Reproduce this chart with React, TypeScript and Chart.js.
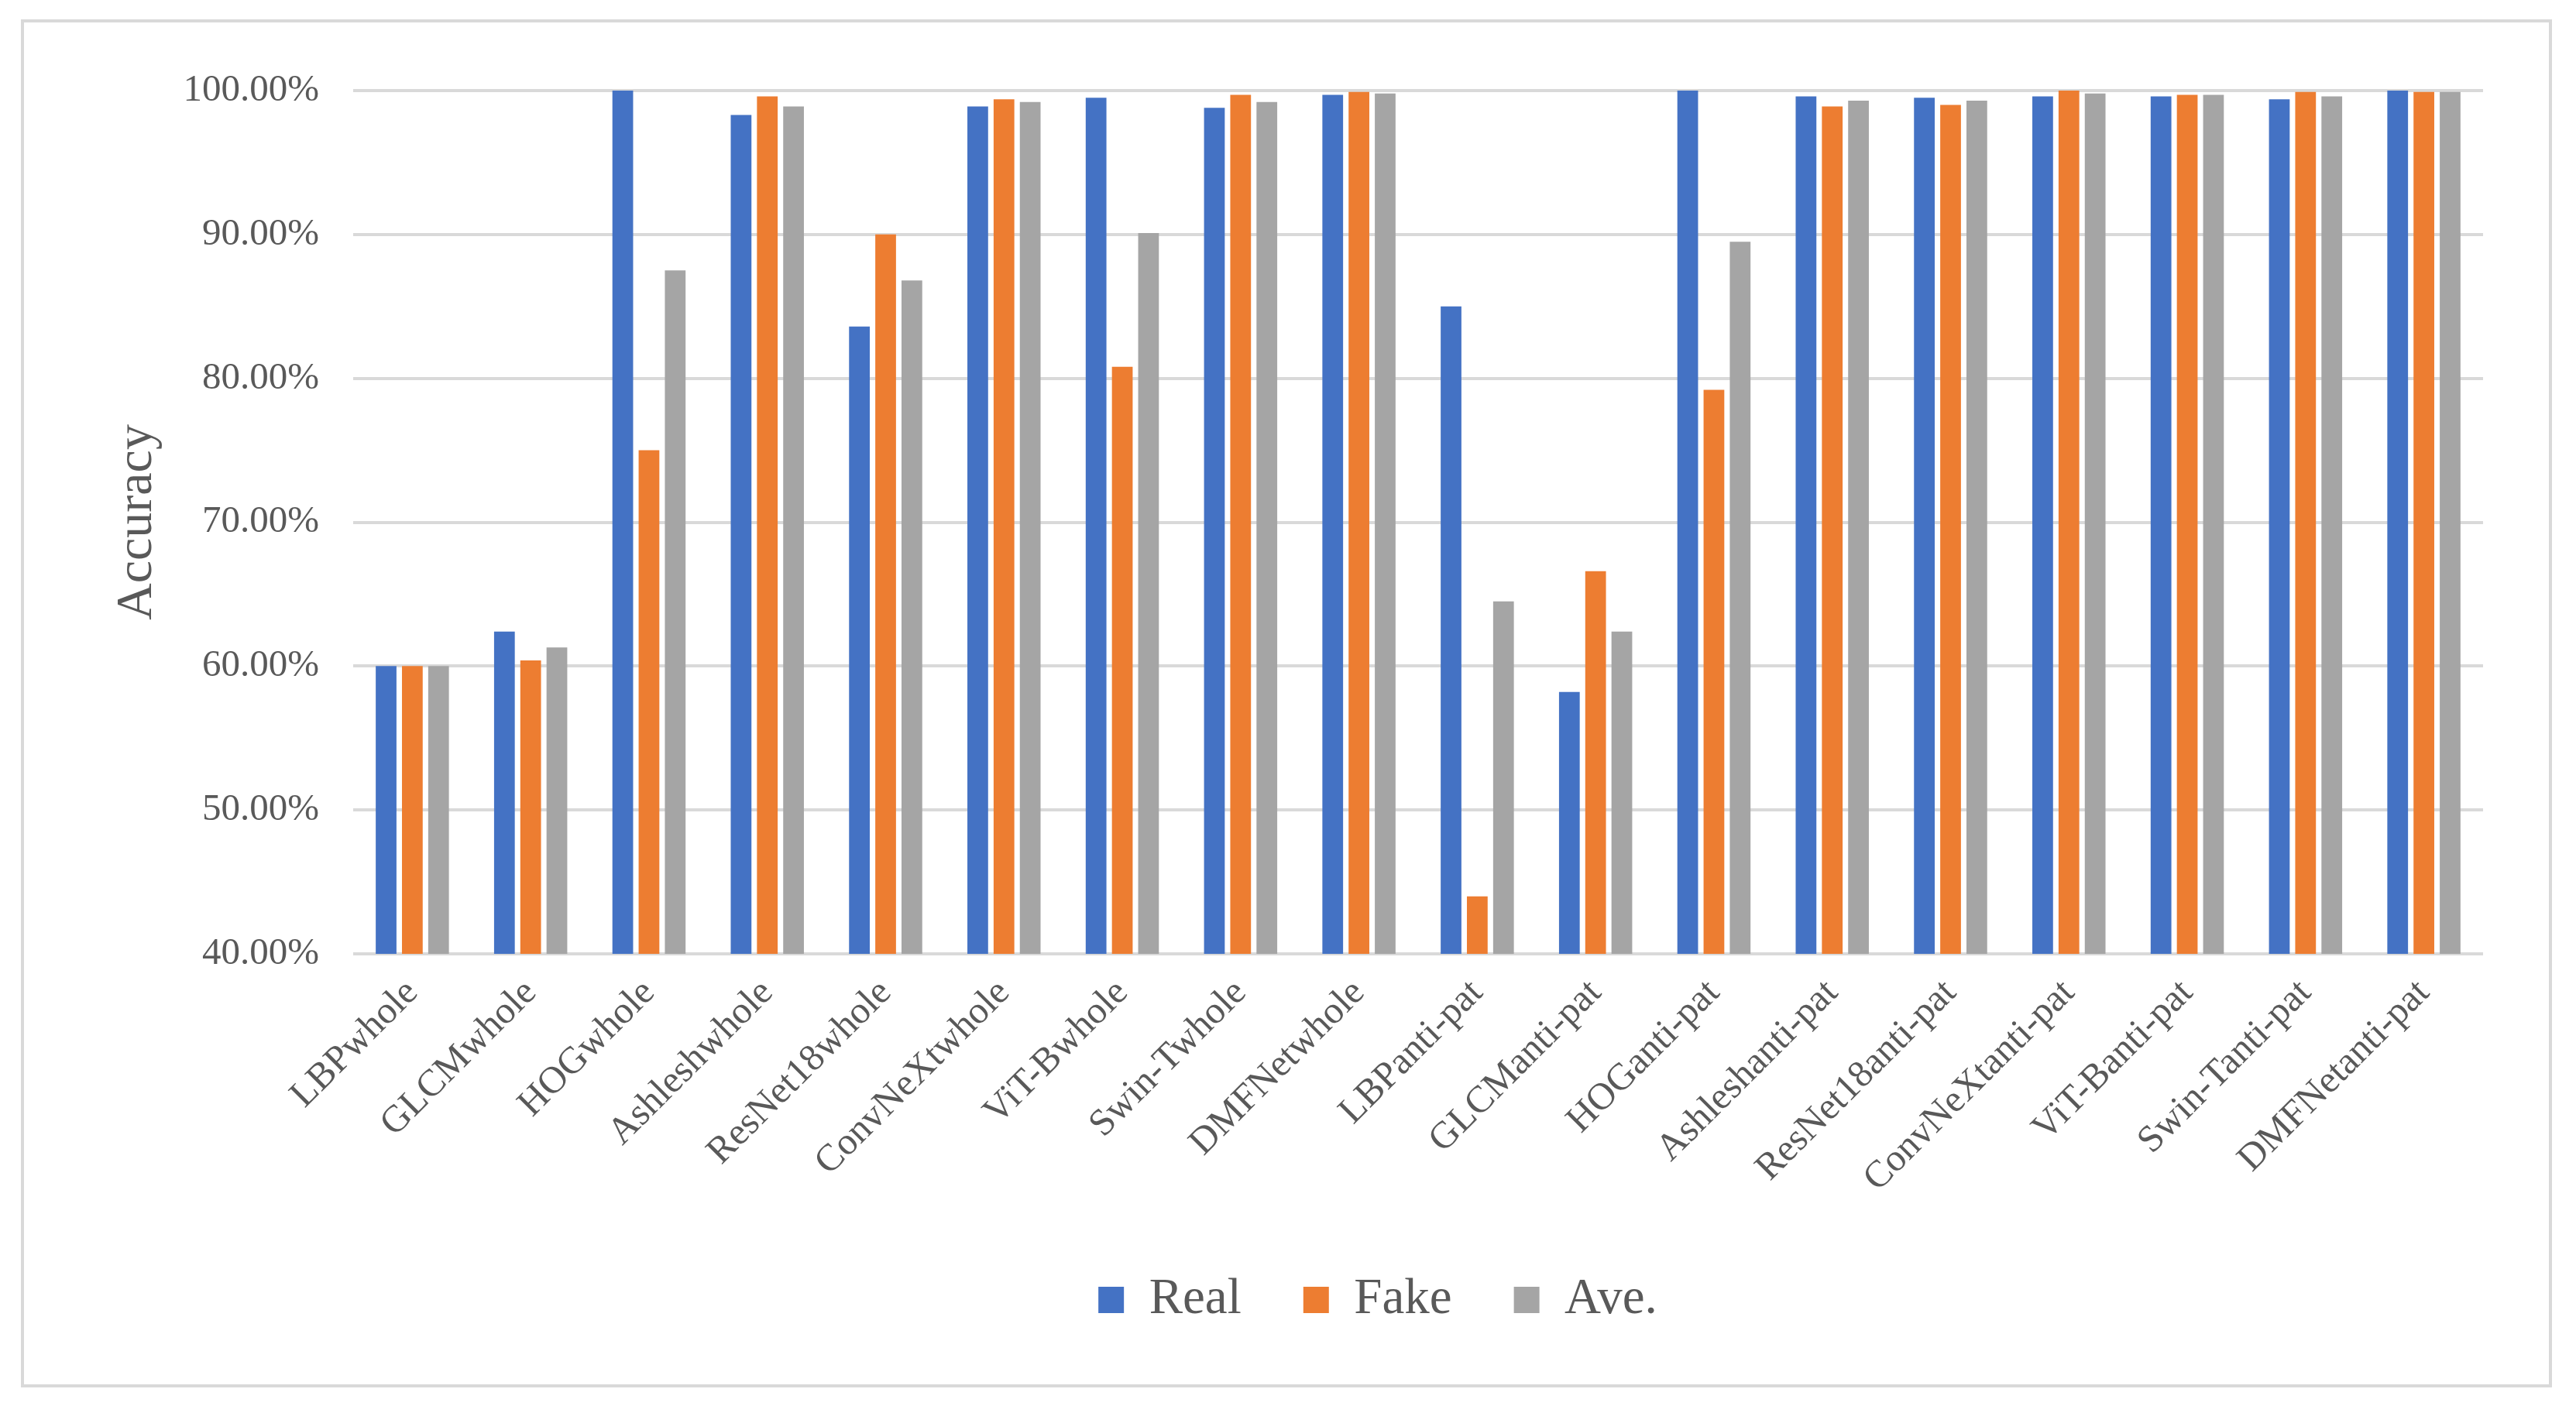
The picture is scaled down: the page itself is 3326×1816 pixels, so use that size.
import { useEffect, useRef } from 'react';
import { Chart, registerables, type Plugin } from 'chart.js';

Chart.register(...registerables);

const categories = [
  'LBPwhole', 'GLCMwhole', 'HOGwhole', 'Ashleshwhole', 'ResNet18whole', 'ConvNeXtwhole',
  'ViT-Bwhole', 'Swin-Twhole', 'DMFNetwhole', 'LBPanti-pat', 'GLCManti-pat', 'HOGanti-pat',
  'Ashleshanti-pat', 'ResNet18anti-pat', 'ConvNeXtanti-pat', 'ViT-Banti-pat', 'Swin-Tanti-pat', 'DMFNetanti-pat',
];

const realAcc = [60, 62.4, 100, 98.3, 83.6, 98.9, 99.5, 98.8, 99.7, 85.0, 58.2, 100, 99.6, 99.5, 99.6, 99.6, 99.4, 100];
const fakeAcc = [60, 60.4, 75.0, 99.6, 90.0, 99.4, 80.8, 99.7, 99.9, 44.0, 66.6, 79.2, 98.9, 99.0, 100, 99.7, 99.9, 99.9];
const aveAcc = [60, 61.3, 87.5, 98.9, 86.8, 99.2, 90.1, 99.2, 99.8, 64.5, 62.4, 89.5, 99.3, 99.3, 99.8, 99.7, 99.6, 99.9];

const yTicks = [40, 50, 60, 70, 80, 90, 100];

const TEXT = '#595959';
const GRID = '#d9d9d9';
const FONT = "'Liberation Serif', 'Times New Roman', serif";

// Excel centres the legend a little left of the plot area
const legendShift: Plugin<'bar'> = {
  id: 'legendShift',
  afterLayout(chart) {
    const lg = chart.legend;
    if (!lg) return;
    lg.left -= 52;
    lg.right -= 52;
  },
};

export default function App() {
  const canvasRef = useRef<HTMLCanvasElement>(null);

  useEffect(() => {
    document.body.style.margin = '0';
    document.body.style.overflow = 'hidden';
    const canvas = canvasRef.current;
    if (!canvas) return;

    const chart = new Chart(canvas, {
      type: 'bar',
      data: {
        labels: categories,
        datasets: [
          { label: 'Real', data: realAcc, backgroundColor: '#4472C4' },
          { label: 'Fake', data: fakeAcc, backgroundColor: '#ED7D31' },
          { label: 'Ave.', data: aveAcc, backgroundColor: '#A5A5A5' },
        ],
      },
      options: {
        responsive: true,
        maintainAspectRatio: false,
        animation: false,
        devicePixelRatio: 1,
        datasets: { bar: { barPercentage: 0.79, categoryPercentage: 0.665 } },
        layout: { padding: { left: 0, right: 120, top: 117, bottom: 94.5 } },
        plugins: {
          tooltip: { enabled: false },
          legend: {
            position: 'bottom',
            fullSize: false,
            labels: {
              color: TEXT,
              font: { family: FONT, size: 65 },
              boxWidth: 33,
              boxHeight: 34,
              padding: 80,
            },
          },
        },
        scales: {
          x: {
            grid: { display: false },
            border: { display: false },
            ticks: {
              color: TEXT,
              font: { family: FONT, size: 49 },
              maxRotation: 45,
              minRotation: 45,
              autoSkip: false,
              padding: 14,
            },
            afterFit(scale) {
              scale.height = 334.5;
            },
          },
          y: {
            min: 40,
            max: 100,
            afterBuildTicks(scale) {
              scale.ticks = yTicks.map((v) => ({ value: v }));
            },
            grid: { color: GRID, lineWidth: 4, drawTicks: false },
            border: { display: false },
            ticks: {
              color: TEXT,
              font: { family: FONT, size: 49 },
              padding: 44,
              callback: (v) => Number(v).toFixed(2) + '%',
            },
            title: {
              display: true,
              text: 'Accuracy',
              color: TEXT,
              font: { family: FONT, size: 66 },
              padding: { top: 138, bottom: 0 },
            },
            afterFit(scale) {
              scale.width = 456;
            },
          },
        },
      },
      plugins: [legendShift],
    });

    return () => chart.destroy();
  }, []);

  return (
    <div style={{ position: 'relative', width: 3326, height: 1816, background: '#fff' }}>
      <canvas ref={canvasRef} />
      <div
        style={{
          position: 'absolute',
          left: 27,
          top: 25,
          width: 3268,
          height: 1767,
          border: `4px solid ${GRID}`,
          boxSizing: 'border-box',
          pointerEvents: 'none',
        }}
      />
    </div>
  );
}
